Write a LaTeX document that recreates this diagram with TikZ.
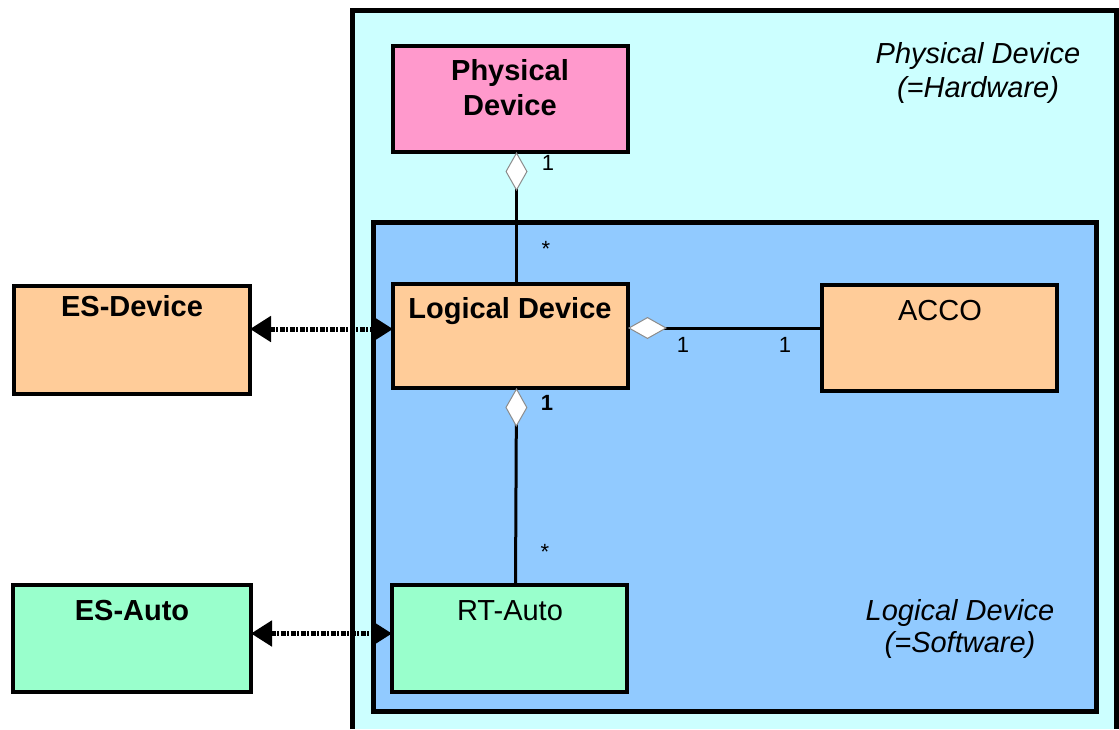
\documentclass[tikz,border=0pt]{standalone}
\usepackage{fontspec}
\setmainfont{Liberation Sans}
\usetikzlibrary{arrows.meta,calc}

\definecolor{hwfill}{RGB}{204,255,255}
\definecolor{swfill}{RGB}{145,202,255}
\definecolor{pinkfill}{RGB}{255,153,204}
\definecolor{orangefill}{RGB}{255,204,153}
\definecolor{greenfill}{RGB}{153,255,204}

\tikzset{
  classbox/.style={draw=black, line width=4pt, rectangle, outer sep=0pt, inner sep=0pt, anchor=north west},
  boxtext/.style={anchor=base, inner sep=0pt, font=\fontsize{29}{35}\selectfont, align=center},
  boldtext/.style={boxtext, font=\fontsize{29}{35}\selectfont\bfseries},
  areatext/.style={anchor=base, inner sep=0pt, font=\fontsize{29}{34}\selectfont\itshape},
  mult/.style={inner sep=0pt, font=\fontsize{22}{22}\selectfont},
  assoc/.style={line width=3pt, draw=black},
  aggtip/.tip={Diamond[length=39pt, width=22pt, fill=white, color=black!45, line width=1pt]},
  arrowtip/.tip={Triangle[length=21pt, width=25pt]},
  exchange/.style={line width=5pt, draw=black, dash pattern=on 5pt off 1.5pt on 2pt off 1.5pt, arrowtip-arrowtip}
}

\begin{document}
\begin{tikzpicture}[x=1pt, y=-1pt]
  \useasboundingbox[fill=white] (0,0) rectangle (1119,729);

  % hardware area (continues below the lower edge)
  \fill[hwfill] (352,10) rectangle (1116,729);
  \draw[line width=5pt, line join=miter] (352,729) -- (352,10) -- (1116,10) -- (1116,729);
  \node[areatext] (hwtitle) at (978,63) {Physical Device};
  \node[areatext] (hwsub) at (978,97) {(=Hardware)};

  % software area
  \draw[line width=5pt, fill=swfill] (373,222) rectangle (1096,711);
  \node[areatext] (swtitle) at (960,620) {Logical Device};
  \node[areatext] (swsub) at (960,652) {(=Software)};

  % classes
  \node[classbox, fill=pinkfill, minimum width=235pt, minimum height=106pt] (pd) at (393,46) {};
  \node[boldtext] (pdtext1) at (510,80) {Physical};
  \node[boldtext] (pdtext2) at (510,115) {Device};

  \node[classbox, fill=orangefill, minimum width=235pt, minimum height=104pt] (ld) at (393,284) {};
  \node[boldtext] (ldtext) at (510,318) {Logical Device};

  \node[classbox, fill=orangefill, minimum width=235pt, minimum height=106pt] (acco) at (822,285) {};
  \node[boxtext] (accotext) at (940,320) {ACCO};

  \node[classbox, fill=greenfill, minimum width=235pt, minimum height=107pt] (rt) at (392,585) {};
  \node[boxtext] (rttext) at (510,620) {RT-Auto};

  \node[classbox, fill=orangefill, minimum width=236pt, minimum height=108pt] (esd) at (14,286) {};
  \node[boldtext] (esdtext) at (132,316) {ES-Device};

  \node[classbox, fill=greenfill, minimum width=238pt, minimum height=107pt] (esa) at (13,585) {};
  \node[boldtext] (esatext) at (132,620) {ES-Auto};

  % aggregations
  \draw[assoc, -aggtip] ([xshift=6pt]ld.north) -- ([xshift=6pt]pd.south);
  \node[mult] (m1) at (548,163) {1};
  \node[mult] (m2) at (546,249) {*};

  \coordinate (ldright) at ([yshift=8pt]ld.east);
  \draw[assoc, aggtip-] (ldright) -- (acco.west |- ldright);
  \node[mult] (m3) at (683,345) {1};
  \node[mult] (m4) at (785,345) {1};

  \draw[assoc, aggtip-] ([xshift=6pt]ld.south) -- ([xshift=6pt]rt.north);
  \node[mult, font=\fontsize{22}{22}\selectfont\bfseries] (m5) at (547,403) {1};
  \node[mult] (m6) at (545,552) {*};

  % exchange links
  \coordinate (ldleft) at ([yshift=7pt]ld.west);
  \draw[exchange] (esd.east |- ldleft) -- (ldleft);
  \coordinate (rtleft) at ([yshift=5pt]rt.west);
  \draw[exchange] (esa.east |- rtleft) -- (rtleft);
\end{tikzpicture}
\end{document}
